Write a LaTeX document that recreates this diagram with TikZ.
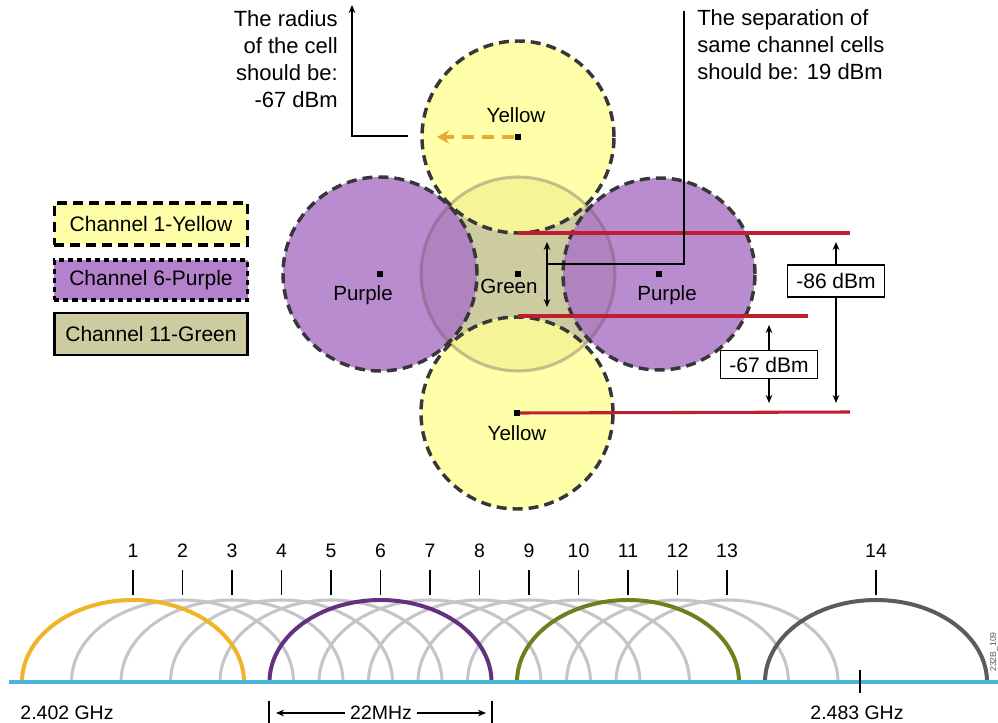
\documentclass[tikz,border=0pt]{standalone}
\usepackage{fontspec}
\setmainfont{Liberation Sans}
\usetikzlibrary{arrows.meta,calc}
\definecolor{cyell}{RGB}{255,255,149}
\definecolor{cpurp}{RGB}{170,115,198}
\definecolor{cyleg}{RGB}{255,255,170}
\definecolor{cpleg}{RGB}{180,130,205}
\definecolor{cgreen}{RGB}{205,203,160}
\definecolor{cred}{RGB}{190,30,45}
\definecolor{corange}{RGB}{232,170,50}
\definecolor{cdash}{RGB}{55,55,55}
\definecolor{cblue}{RGB}{75,180,220}
\definecolor{cone}{RGB}{240,180,40}
\definecolor{csix}{RGB}{100,48,128}
\definecolor{celeven}{RGB}{108,128,30}
\definecolor{cfourteen}{RGB}{90,90,95}
\definecolor{cgray}{RGB}{196,196,202}
\definecolor{cgborder}{RGB}{100,80,90}
\begin{document}
\begin{tikzpicture}[x=0.75pt,y=-0.75pt,
  fillcell/.style={circle,inner sep=0,minimum size=#1},
  celldash/.style={draw=cdash,line width=2.6pt,dash pattern=on 7.5pt off 4.5pt},
  dot/.style={fill=black,rectangle,inner sep=0,minimum size=5.2pt},
  lbl/.style={font=\fontsize{15.4}{18}\selectfont,inner sep=0},
  ann/.style={font=\fontsize{16.5}{20.25}\selectfont,inner sep=0},
  legbox/.style={rectangle,minimum width=145pt,font=\fontsize{15.75}{18}\selectfont,line width=2.6pt},
  redline/.style={draw=cred,line width=2.3pt},
  dbbox/.style={draw,fill=white,line width=0.8pt,font=\fontsize{15.75}{18}\selectfont,minimum width=73pt,inner sep=0},
  arr/.style={-{Stealth[length=6pt,width=5pt]},line width=0.9pt},
  darr/.style={{Stealth[length=6pt,width=5pt]}-{Stealth[length=6pt,width=5pt]},line width=0.9pt},
  num/.style={font=\fontsize{14.6}{17}\selectfont,inner sep=0},
  tickline/.style={line width=1pt},
  grayarc/.style={draw=cgray,line width=2.3pt},
  colarc/.style={line width=3pt}
]
\useasboundingbox (0,0) rectangle (998,723);

% ---------- cells ----------
\node[fillcell=145.5pt,fill=cgreen] (gc) at (518,274) {};
\node[fillcell=144pt,fill=cyell,fill opacity=0.8] (yt) at (518,137) {};
\node[fillcell=144pt,fill=cyell,fill opacity=0.8] (yb) at (517,413) {};
\node[fillcell=145.5pt,fill=cpurp,fill opacity=0.82] (pl) at (380,274) {};
\node[fillcell=144pt,fill=cpurp,fill opacity=0.82] (pr) at (659,274) {};
\draw[draw=cgborder,draw opacity=0.35,line width=2.3pt] (gc.center) circle[radius=72.75pt];
\draw[celldash] (yt.center) circle[radius=72pt];
\draw[celldash] (yb.center) circle[radius=72pt];
\draw[celldash] (pl.center) circle[radius=72.75pt];
\draw[celldash] (pr.center) circle[radius=72pt];

% ---------- red lines ----------
\coordinate (r1a) at (518,233); \coordinate (r1b) at (850,233);
\coordinate (r2a) at (518,316); \coordinate (r2b) at (808,316);
\coordinate (r3b) at (850,412);
\draw[redline] (r1a) -- (r1b);
\draw[redline] (r2a) -- (r2b);
\draw[redline] (yb.center) -- (r3b);

% ---------- dots and labels ----------
\node[dot] (dyt) at (yt) {};
\node[dot] (dyb) at (yb) {};
\node[dot] (dpl) at (pl) {};
\node[dot] (dpr) at (pr) {};
\node[dot] (dgc) at (gc) {};
\node[lbl] (lyt) at (516,115) {Yellow};
\node[lbl] (lyb) at (517,433) {Yellow};
\node[lbl] (lpl) at (363,295) {Purple};
\node[lbl] (lpr) at (667,295) {Purple};
\node[lbl] (lgc) at (509,286) {Green};

% ---------- radius annotation ----------
\coordinate (otip) at (437,137);
\draw[draw=corange,line width=2.3pt,dash pattern=on 9pt off 6pt,-{Stealth[length=9pt,width=10pt]}] (dyt) -- (otip);
\coordinate (ra) at (408,136);
\coordinate (rb) at (352,136);
\coordinate (rc) at (352,5);
\draw[arr,line width=1.1pt] (ra) -- (rb) -- (rc);
\node[ann,align=right,anchor=east] (trad) at (338,59) {The radius\\of the cell\\should be:\\-67 dBm};

% ---------- separation annotation ----------
\coordinate (sa) at (684,11);
\coordinate (sb) at (684,264);
\coordinate (sc) at (547,264);
\draw[line width=1.1pt] (sa) -- (sb) -- (sc);
\coordinate (su) at (547,242);
\coordinate (sd) at (547,307);
\draw[darr] (su) -- (sd);
\node[ann,align=left,anchor=west] (tsep) at (697,45) {The separation of\\same channel cells\\should be: 19 dBm};

% ---------- dBm boxes ----------
\node[dbbox,minimum height=24pt] (b86) at (836,281) {-86 dBm};
\coordinate (b86u) at (836,242);
\coordinate (b86d) at (836,403);
\draw[arr] (b86.north) -- (b86u);
\draw[arr] (b86.south) -- (b86d);
\node[dbbox,minimum height=20.5pt] (b67) at (769,364.5) {-67 dBm};
\coordinate (b67u) at (769,325);
\coordinate (b67d) at (769,403);
\draw[arr] (b67.north) -- (b67u);
\draw[arr] (b67.south) -- (b67d);

% ---------- legend ----------
\node[legbox,fill=cyleg,draw=black,dash pattern=on 7.5pt off 4.5pt,minimum height=31.5pt] (leg1) at (151,224) {Channel 1-Yellow};
\node[legbox,fill=cpleg,draw=black,dash pattern=on 3.8pt off 3pt,minimum height=30pt] (leg6) at (151,280) {Channel 6-Purple};
\node[legbox,fill=cgreen,draw=black,line width=2.2pt,minimum height=31.5pt] (leg11) at (151,334) {Channel 11-Green};

% ---------- spectrum ----------
\foreach \n in {2,3,4,5,7,8,9,10,12,13}{
  \pgfmathsetmacro\cx{133+49.5*(\n-1)}
  \draw[grayarc] ({\cx-111},682) arc[start angle=180,end angle=0,x radius=83.25pt,y radius=61.5pt];
}
\draw[colarc,draw=cone] (22,682) arc[start angle=180,end angle=0,x radius=83.25pt,y radius=61.5pt];
\draw[colarc,draw=csix] (269.5,682) arc[start angle=180,end angle=0,x radius=83.25pt,y radius=61.5pt];
\draw[colarc,draw=celeven] (517,682) arc[start angle=180,end angle=0,x radius=83.25pt,y radius=61.5pt];
\draw[colarc,draw=cfourteen] (765,682) arc[start angle=180,end angle=0,x radius=83.25pt,y radius=61.5pt];
\foreach \n in {1,...,13}{
  \pgfmathsetmacro\cx{133+49.5*(\n-1)}
  \node[num] (n\n) at (\cx,551) {\n};
  \coordinate (ta\n) at (\cx,570);
  \coordinate (tb\n) at (\cx,595);
  \draw[tickline] (ta\n) -- (tb\n);
}
\node[num] (n14) at (876,551) {14};
\coordinate (ta14) at (876,570);
\coordinate (tb14) at (876,595);
\draw[tickline] (ta14) -- (tb14);

\coordinate (bl) at (9,682);
\coordinate (br) at (998,682);
\draw[draw=cblue,line width=2.4pt] (bl) -- (br);

\coordinate (ga) at (860,670);
\coordinate (gb) at (860,693);
\draw[tickline] (ga) -- (gb);
\node[num] (f2483) at (857,713) {2.483 GHz};
\node[num] (f2402) at (67,713) {2.402 GHz};

\coordinate (m1a) at (269,701); \coordinate (m1b) at (269,723);
\coordinate (m2a) at (492,701); \coordinate (m2b) at (492,723);
\draw[tickline] (m1a) -- (m1b);
\draw[tickline] (m2a) -- (m2b);
\node[num] (mhz) at (381,713) {22MHz};
\coordinate (ml) at (276,713);
\coordinate (mr) at (486,713);
\draw[arr] (mhz.west) ++(-5,0) -- (ml);
\draw[arr] (mhz.east) ++(5,0) -- (mr);

\node[font=\fontsize{6.5}{7}\selectfont,text=cfourteen,rotate=90,inner sep=0] (fig) at (994,652) {232B\_109};
\end{tikzpicture}
\end{document}
